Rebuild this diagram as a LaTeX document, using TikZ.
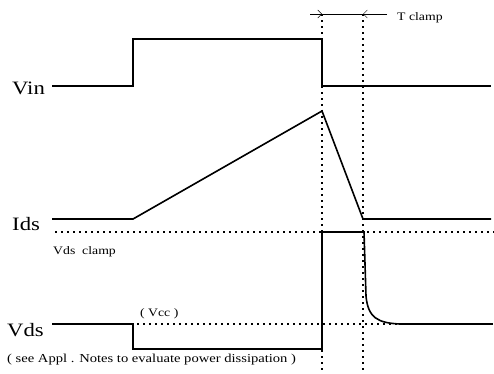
\documentclass[tikz,border=0pt]{standalone}
\usepackage{fontspec}
\setmainfont{Liberation Serif}[FakeStretch=1.2]
\usetikzlibrary{arrows.meta}
\begin{document}
\begin{tikzpicture}[x=1bp,y=-1bp,
  wave/.style={line width=1.6bp},
  guide/.style={line width=2bp,dash pattern=on 2bp off 4bp},
  lbl/.style={anchor=base west,inner sep=0pt,font=\fontsize{19}{19}\selectfont},
  note/.style={anchor=base west,inner sep=0pt,font=\fontsize{11.5}{11.5}\selectfont},
  barb/.style={-{Straight Barb[length=4bp,width=8bp]}}]
\useasboundingbox (0,0) rectangle (494,373);

% dotted guides
\draw[guide] (322,14) -- (322,373);
\draw[guide] (363,14) -- (363,373);
\draw[guide] (55,232) -- (494,232);
\draw[guide] (113,324) -- (494,324);

% T clamp
\coordinate (t0) at (310,14);
\coordinate (t1) at (322,14);
\coordinate (t2) at (363,14);
\coordinate (t3) at (387,14);
\draw[barb] (t0) -- (t1);
\draw (t1) -- (t2);
\draw[barb] (t3) -- (t2);
\node[note] (tclamp) at (397,20) {T clamp};

% Vin
\node[lbl] (vin) at (12,94) {Vin};
\draw[wave] (52,86) -- (133,86) -- (133,39) -- (322,39) -- (322,86) -- (491,86);

% Ids
\node[lbl] (ids) at (12,230) {Ids};
\draw[wave] (52,219) -- (133,219) -- (322,111) -- (363,219) -- (491,219);
\node[note] (clamp) at (53,254) {Vds\ \ clamp};

% Vds
\node[lbl] (vds) at (7,336) {Vds};
\draw[wave] (52,324) -- (133,324) -- (133,349) -- (322,349) -- (322,232) -- (364,232)
  -- (366,296) .. controls (368,318) and (378,323) .. (400,324) -- (491,324);
\node[note] (vcc) at (140,316) {( Vcc )};
\node[note,font=\fontsize{12.2}{12.2}\selectfont] (see) at (7,362) {( see Appl . Notes to evaluate power dissipation )};
\end{tikzpicture}
\end{document}
